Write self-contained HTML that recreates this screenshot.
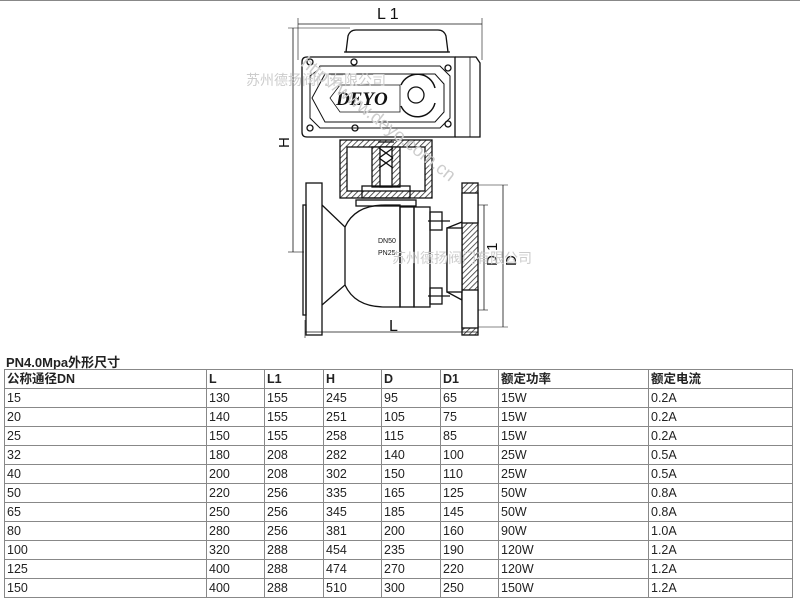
<!DOCTYPE html>
<html><head><meta charset="utf-8"><style>
body{margin:0;width:800px;height:600px;background:#fff;position:relative;overflow:hidden;font-family:"Liberation Sans","Noto Sans CJK SC",sans-serif}
.topline{position:absolute;left:0;top:0;width:800px;height:1px;background:#888}
svg{position:absolute;left:0;top:0}
.title{position:absolute;left:6px;top:352px;font-size:13px;font-weight:bold;color:#222}
table{position:absolute;left:4px;top:369px;border-collapse:collapse;font-size:12.5px;color:#222}
td{border:1px solid #888;height:18px;padding:0 0 0 2px;line-height:18px;white-space:nowrap}
tr:first-child td{font-weight:bold}
</style></head><body>
<div class="topline"></div>
<svg width="800" height="345" viewBox="0 0 800 345">
<defs><pattern id="h" width="4" height="4" patternUnits="userSpaceOnUse" patternTransform="rotate(45)"><rect width="4" height="4" fill="#fff"/><line x1="0" y1="0" x2="0" y2="4" stroke="#333" stroke-width="1.6"/></pattern></defs>
<g fill="none" stroke="#111" stroke-width="1.3">
<line x1="298" y1="24" x2="482" y2="24" stroke-width="0.8"/>
<line x1="298" y1="18" x2="298" y2="60" stroke-width="0.6"/>
<line x1="482" y1="18" x2="482" y2="60" stroke-width="0.6"/>
<line x1="293" y1="28" x2="293" y2="252" stroke-width="0.8"/>
<line x1="288" y1="28" x2="350" y2="28" stroke-width="0.6"/>
<line x1="288" y1="252" x2="304" y2="252" stroke-width="0.6"/>
<path d="M346 52 L348 36 Q350 30 356 30 L438 30 Q444 30 446 36 L448 52 Z"/>
<line x1="344" y1="52" x2="450" y2="52"/>
<path d="M302 62 Q302 57 307 57 L455 57 L455 137 L307 137 Q302 137 302 132 Z"/>
<path d="M455 57 L476 57 L480 63 L480 137 L455 137"/>
<line x1="470" y1="57" x2="470" y2="137" stroke-width="0.8"/>
<path d="M318 70 L320 66 L440 66 L450 76 L450 118 L440 128 L320 128 L310 118 L310 76 Z" stroke-width="1"/>
<path d="M325 74 L435 74 L444 84 L444 112 L435 122 L325 122 L312 98 Z" stroke-width="1"/>
<path d="M340 85 L400 85 L400 112 L340 112 L330 98 Z" stroke-width="0.8"/>
<circle cx="416" cy="95" r="8"/>
<path d="M401 85 A18 18 0 0 1 435 88" stroke-width="1.5"/>
<path d="M401 106 A18 18 0 0 0 435 103" stroke-width="1.5"/>
<circle cx="310" cy="62" r="3"/><circle cx="354" cy="62" r="3"/><circle cx="448" cy="68" r="3"/>
<circle cx="310" cy="128" r="3"/><circle cx="355" cy="128" r="3"/><circle cx="448" cy="124" r="3"/>
<rect x="340" y="140" width="92" height="58" fill="url(#h)"/>
<rect x="347" y="147" width="78" height="44" fill="#fff"/>
<rect x="372" y="147" width="28" height="40" fill="url(#h)"/>
<rect x="380" y="147" width="12" height="40" fill="#fff"/>
<path d="M378 142 L394 142 M379 148 L393 158 M393 148 L379 158 M379 158 L393 168 M393 158 L379 168"/>
<rect x="362" y="186" width="48" height="12"/>
<rect x="356" y="200" width="60" height="6"/>
<rect x="306" y="183" width="16" height="152"/>
<rect x="303" y="205" width="3" height="110"/>
<path d="M322 205 L345 227 L345 285 L322 305"/>
<path d="M345 227 Q355 205 385 205 L400 205 L400 307 L385 307 Q355 307 345 285"/>
<rect x="400" y="207" width="14" height="100"/>
<rect x="414" y="207" width="16" height="100"/>
<rect x="430" y="212" width="12" height="18"/><rect x="430" y="288" width="12" height="16"/>
<line x1="428" y1="221" x2="450" y2="221"/><line x1="428" y1="296" x2="450" y2="296"/>
<path d="M447 228 L462 222 L462 300 L447 292 Z"/>
<rect x="462" y="183" width="16" height="152" fill="url(#h)"/>
<rect x="462" y="193" width="16" height="30" fill="#fff"/>
<rect x="462" y="290" width="16" height="38" fill="#fff"/>
<rect x="447" y="228" width="15" height="64" fill="#fff"/>
<line x1="503" y1="185" x2="503" y2="327" stroke-width="0.8"/>
<line x1="478" y1="185" x2="508" y2="185" stroke-width="0.6"/>
<line x1="478" y1="327" x2="508" y2="327" stroke-width="0.6"/>
<line x1="484" y1="205" x2="484" y2="310" stroke-width="0.8"/>
<line x1="478" y1="205" x2="488" y2="205" stroke-width="0.6"/>
<line x1="478" y1="310" x2="488" y2="310" stroke-width="0.6"/>
<line x1="305" y1="332" x2="478" y2="332" stroke-width="0.8"/>
<line x1="305" y1="320" x2="305" y2="338" stroke-width="0.6"/>
</g>
<g font-family="Liberation Sans, sans-serif" fill="#111">
<text x="377" y="19" font-size="16">L 1</text>
<text x="389" y="331" font-size="16">L</text>
<text transform="translate(289,148) rotate(-90)" font-size="15">H</text>
<text transform="translate(497,266) rotate(-90)" font-size="15">D 1</text>
<text transform="translate(516,266) rotate(-90)" font-size="15">D</text>
<text x="378" y="243" font-size="7">DN50</text>
<text x="378" y="255" font-size="7">PN25</text>
<text x="336" y="105" font-size="19" font-weight="bold" font-style="italic" font-family="Liberation Serif, serif">DEYO</text>
</g>
<g font-family="Liberation Sans, 'Noto Sans CJK SC', sans-serif" fill="#ccc" font-size="14">
<text x="246" y="85">苏州德扬阀门有限公司</text>
<text x="392" y="263">苏州德扬阀门有限公司</text>
<text transform="translate(300,65) rotate(38)" font-size="18">http://www.deyo.com.cn</text>
</g>
</svg>
<div class="title">PN4.0Mpa外形尺寸</div>
<table>
<tr><td style="width:199px">公称通径DN</td><td style="width:55px">L</td><td style="width:56px">L1</td><td style="width:55px">H</td><td style="width:56px">D</td><td style="width:55px">D1</td><td style="width:147px">额定功率</td><td style="width:141px">额定电流</td></tr>
<tr><td>15</td><td>130</td><td>155</td><td>245</td><td>95</td><td>65</td><td>15W</td><td>0.2A</td></tr>
<tr><td>20</td><td>140</td><td>155</td><td>251</td><td>105</td><td>75</td><td>15W</td><td>0.2A</td></tr>
<tr><td>25</td><td>150</td><td>155</td><td>258</td><td>115</td><td>85</td><td>15W</td><td>0.2A</td></tr>
<tr><td>32</td><td>180</td><td>208</td><td>282</td><td>140</td><td>100</td><td>25W</td><td>0.5A</td></tr>
<tr><td>40</td><td>200</td><td>208</td><td>302</td><td>150</td><td>110</td><td>25W</td><td>0.5A</td></tr>
<tr><td>50</td><td>220</td><td>256</td><td>335</td><td>165</td><td>125</td><td>50W</td><td>0.8A</td></tr>
<tr><td>65</td><td>250</td><td>256</td><td>345</td><td>185</td><td>145</td><td>50W</td><td>0.8A</td></tr>
<tr><td>80</td><td>280</td><td>256</td><td>381</td><td>200</td><td>160</td><td>90W</td><td>1.0A</td></tr>
<tr><td>100</td><td>320</td><td>288</td><td>454</td><td>235</td><td>190</td><td>120W</td><td>1.2A</td></tr>
<tr><td>125</td><td>400</td><td>288</td><td>474</td><td>270</td><td>220</td><td>120W</td><td>1.2A</td></tr>
<tr><td>150</td><td>400</td><td>288</td><td>510</td><td>300</td><td>250</td><td>150W</td><td>1.2A</td></tr>
</table>
</body></html>
